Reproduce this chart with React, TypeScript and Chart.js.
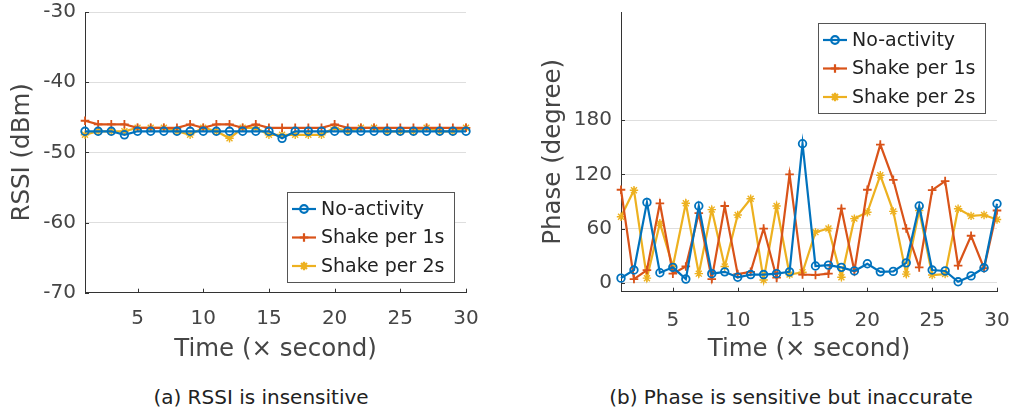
import React, { useEffect, useRef } from 'react';
import { Chart, registerables } from 'chart.js';
import { drawPoint } from 'chart.js/helpers';

Chart.register(...registerables);

// ---------- data ----------
const timeSeconds = [1, 2, 3, 4, 5, 6, 7, 8, 9, 10, 11, 12, 13, 14, 15, 16, 17, 18, 19, 20, 21, 22, 23, 24, 25, 26, 27, 28, 29, 30];
const timeTicks = [5, 10, 15, 20, 25, 30];
const seriesLabels = ['No-activity', 'Shake per 1s', 'Shake per 2s'];

const rssiNoActivity = [-47, -47, -47, -47.5, -47, -47, -47, -47, -47, -47, -47, -47, -47, -47, -47, -48, -47, -47, -47, -47, -47, -47, -47, -47, -47, -47, -47, -47, -47, -47];
const rssiShake1s = [-45.5, -46, -46, -46, -46.5, -46.5, -46.5, -46.5, -46, -46.5, -46, -46, -46.5, -46, -46.5, -46.5, -46.5, -46.5, -46.5, -46, -46.5, -46.5, -46.5, -46.5, -46.5, -46.5, -46.5, -46.5, -46.5, -46.5];
const rssiShake2s = [-47.5, -47, -47, -47, -46.5, -46.5, -46.5, -47, -47.5, -46.5, -47, -48, -46.5, -46.5, -47.5, -47.5, -47.5, -47.5, -47.5, -46.5, -47, -46.5, -46.5, -47, -47, -47, -46.5, -47, -47, -46.5];
const rssiTicks = [-70, -60, -50, -40, -30];

const phaseNoActivity = [5, 14, 89, 11, 17, 4, 85, 10, 12, 6, 9, 9, 10, 12, 154, 18.5, 19.5, 17, 13, 21, 12, 12.5, 22, 85, 14, 13, 1, 7.5, 16.5, 87.5];
const phaseShake1s = [103, 4, 14, 88, 10, 18, 77, 4, 85, 9.5, 12, 60, 5.5, 120, 9, 8.5, 10, 82, 13, 103, 153, 114, 60, 17, 102.5, 112.5, 19, 52, 16, 80];
const phaseShake2s = [73, 102.5, 5, 66, 18, 88, 10, 81, 18, 75, 93, 3, 85, 9, 11.5, 56, 60, 6, 71, 78, 119, 79, 9.5, 80, 8.5, 9.5, 82, 74, 75, 70];
const phaseTicks = [0, 60, 120, 180];

// ---------- styles ----------
const BLUE = '#0072BD';
const RED = '#D95319';
const YELLOW = '#EDB120';
const FONT = "'DejaVu Sans', 'Liberation Sans', sans-serif";
const TEXT = '#454545';
const AXIS = '#333333';
const GRID = '#dedede';

const W = 506;
const H = 370;

const boxLegend = {
  id: 'boxLegend',
  afterDatasetsDraw(chart: any, _args: any, opts: any) {
    const { ctx, chartArea } = chart;
    const w = 167;
    const h = 90;
    const x0 = Math.round(chartArea.right - 12 - w);
    const y0 = Math.round(opts.corner === 'bottom' ? chartArea.bottom - 11 - h : chartArea.top + 11);
    ctx.save();
    ctx.fillStyle = '#ffffff';
    ctx.fillRect(x0, y0, w, h);
    ctx.strokeStyle = '#555555';
    ctx.lineWidth = 1;
    ctx.strokeRect(x0 + 0.5, y0 + 0.5, w, h);
    chart.data.datasets.forEach((ds: any, i: number) => {
      const y = y0 + 17 + i * 28.5;
      ctx.strokeStyle = ds.borderColor;
      ctx.lineWidth = ds.borderWidth;
      ctx.beginPath();
      ctx.moveTo(x0 + 5, y);
      ctx.lineTo(x0 + 29, y);
      ctx.stroke();
      ctx.strokeStyle = ds.pointBorderColor;
      ctx.fillStyle = 'rgba(0,0,0,0)';
      drawPoint(ctx, { pointStyle: ds.pointStyle, radius: ds.pointRadius, borderWidth: ds.pointBorderWidth, rotation: 0 } as any, x0 + 17, y);
      ctx.fillStyle = '#222222';
      ctx.font = `19px ${FONT}`;
      ctx.textBaseline = 'middle';
      ctx.textAlign = 'left';
      ctx.fillText(ds.label, x0 + 34, y + 1);
    });
    ctx.restore();
  },
};

const inwardTicks = {
  id: 'inwardTicks',
  afterDraw(chart: any) {
    const { ctx, chartArea, scales } = chart;
    const xs = scales.x;
    const ys = scales.y;
    ctx.save();
    ctx.strokeStyle = AXIS;
    ctx.lineWidth = 1;
    ctx.beginPath();
    xs.ticks.forEach((t: any) => {
      const px = Math.round(xs.getPixelForValue(t.value)) + 0.5;
      ctx.moveTo(px, chartArea.bottom);
      ctx.lineTo(px, chartArea.bottom - 4);
    });
    ys.ticks.forEach((t: any) => {
      const py = Math.round(ys.getPixelForValue(t.value)) + 0.5;
      ctx.moveTo(chartArea.left, py);
      ctx.lineTo(chartArea.left + 4, py);
    });
    ctx.stroke();
    ctx.restore();
  },
};

function makeDatasets(values: number[][]) {
  const colors = [BLUE, RED, YELLOW];
  const styles = ['circle', 'cross', 'star'];
  const radii = [3.8, 4.3, 4.2];
  const widths = [1.8, 1.8, 1.4];
  return values.map((vals, i) => ({
    label: seriesLabels[i],
    data: vals.map((v, j) => ({ x: timeSeconds[j], y: v })),
    borderColor: colors[i],
    backgroundColor: colors[i],
    borderWidth: 2.2,
    pointStyle: styles[i],
    pointRadius: radii[i],
    pointBorderWidth: widths[i],
    pointBorderColor: colors[i],
    pointBackgroundColor: 'rgba(0,0,0,0)',
    tension: 0,
    clip: false as any,
  }));
}

function makeConfig(opts: {
  values: number[][];
  yMin: number;
  yMax: number;
  yTicks: number[];
  yTitle: string;
  yAxisWidth: number;
  xAxisHeight: number;
  padRight: number;
  yTitlePad: number;
  xTickPad: number;
  legendCorner: string;
}): any {
  return {
    type: 'line',
    data: { datasets: makeDatasets(opts.values) },
    plugins: [inwardTicks, boxLegend],
    options: {
      animation: false,
      responsive: false,
      devicePixelRatio: 1,
      layout: { padding: { left: 0, top: 12, right: opts.padRight, bottom: 0 } },
      plugins: {
        legend: { display: false },
        tooltip: { enabled: false },
        boxLegend: { corner: opts.legendCorner },
      },
      scales: {
        x: {
          type: 'linear',
          min: 1,
          max: 30,
          afterBuildTicks: (s: any) => {
            s.ticks = timeTicks.map((v) => ({ value: v }));
          },
          afterFit: (s: any) => {
            s.height = opts.xAxisHeight;
            s.paddingLeft = 0;
            s.paddingRight = 0;
          },
          grid: { drawOnChartArea: false, drawTicks: false },
          border: { display: true, color: AXIS, width: 1 },
          ticks: { font: { family: FONT, size: 20 }, color: TEXT, padding: opts.xTickPad, maxRotation: 0, autoSkip: false },
          title: {
            display: true,
            text: 'Time (× second)',
            font: { family: FONT, size: 24.5 },
            color: TEXT,
            padding: { top: 0, bottom: 6 },
          },
        },
        y: {
          type: 'linear',
          min: opts.yMin,
          max: opts.yMax,
          afterBuildTicks: (s: any) => {
            s.ticks = opts.yTicks.map((v) => ({ value: v }));
          },
          afterFit: (s: any) => {
            s.width = opts.yAxisWidth;
            s.paddingTop = 0;
            s.paddingBottom = 0;
          },
          grid: { color: GRID, lineWidth: 1, drawTicks: false },
          border: { display: true, color: AXIS, width: 1 },
          ticks: { font: { family: FONT, size: 20 }, color: TEXT, padding: 9, autoSkip: false },
          title: {
            display: true,
            text: opts.yTitle,
            font: { family: FONT, size: 24.5 },
            color: TEXT,
            padding: { top: opts.yTitlePad, bottom: 0 },
          },
        },
      },
    },
  };
}

function ChartCanvas({ config, left }: { config: any; left: number }) {
  const ref = useRef<HTMLCanvasElement | null>(null);
  useEffect(() => {
    if (!ref.current) return;
    const chart = new Chart(ref.current, config);
    return () => chart.destroy();
  }, [config]);
  return (
    <canvas
      ref={ref}
      width={W}
      height={H}
      style={{ position: 'absolute', left, top: 0, width: W, height: H }}
    />
  );
}

const leftConfig = makeConfig({
  values: [rssiNoActivity, rssiShake1s, rssiShake2s],
  yMin: -70,
  yMax: -30,
  yTicks: rssiTicks,
  yTitle: 'RSSI (dBm)',
  yAxisWidth: 85,
  xAxisHeight: H - 292.7,
  padRight: W - 466,
  yTitlePad: 7.5,
  xTickPad: 14,
  legendCorner: 'bottom',
});

const rightConfig = makeConfig({
  values: [phaseNoActivity, phaseShake1s, phaseShake2s],
  yMin: -10,
  yMax: 300,
  yTicks: phaseTicks,
  yTitle: 'Phase (degree)',
  yAxisWidth: 621 - 506,
  xAxisHeight: H - 291.7,
  padRight: 1012 - 997,
  yTitlePad: 32.5,
  xTickPad: 17,
  legendCorner: 'top',
});

const captionStyle: React.CSSProperties = {
  position: 'absolute',
  top: 384,
  fontFamily: FONT,
  fontSize: 20,
  color: '#222222',
  whiteSpace: 'nowrap',
  transform: 'translateX(-50%)',
  lineHeight: '26px',
};

export default function App() {
  return (
    <div style={{ position: 'fixed', left: 0, top: 0, width: 1012, height: 414, background: '#ffffff', overflow: 'hidden' }}>
      <ChartCanvas config={leftConfig} left={0} />
      <ChartCanvas config={rightConfig} left={506} />
      <div style={{ ...captionStyle, left: 261 }}>(a) RSSI is insensitive</div>
      <div style={{ ...captionStyle, left: 791 }}>(b) Phase is sensitive but inaccurate</div>
    </div>
  );
}
